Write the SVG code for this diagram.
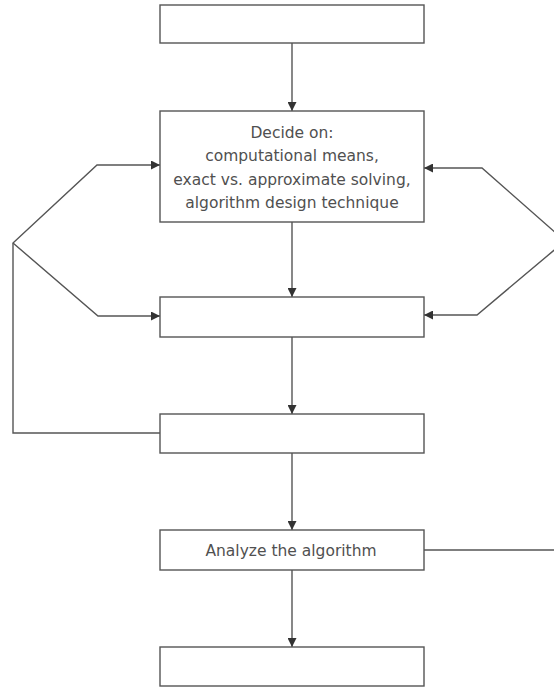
<svg xmlns="http://www.w3.org/2000/svg" width="554" height="687" viewBox="0 0 554 687">
<style>
.box{fill:#fff;stroke:#555;stroke-width:1.4}
.con{fill:none;stroke:#555;stroke-width:1.4}
.lbl{font-family:"DejaVu Sans","Liberation Sans",Arial,sans-serif;font-size:15.5px;fill:#505050;text-anchor:middle}
</style>
<defs>
<marker id="ah" viewBox="0 0 10 10" refX="10" refY="5" markerWidth="9" markerHeight="9" markerUnits="userSpaceOnUse" orient="auto">
<path d="M0,0 L10,5 L0,10 z" fill="#333"/>
</marker>
</defs>
<rect width="554" height="687" fill="#fff"/>
<g id="connectors">
<line class="con" x1="292" y1="43" x2="292" y2="111" marker-end="url(#ah)"/>
<line class="con" x1="292" y1="222" x2="292" y2="297" marker-end="url(#ah)"/>
<line class="con" x1="292" y1="337" x2="292" y2="414" marker-end="url(#ah)"/>
<line class="con" x1="292" y1="453" x2="292" y2="530" marker-end="url(#ah)"/>
<line class="con" x1="292" y1="570" x2="292" y2="647" marker-end="url(#ah)"/>
<polyline class="con" points="160,433 13,433 13,243 97,165 160,165" marker-end="url(#ah)"/>
<polyline class="con" points="13,243 98,316 160,316" marker-end="url(#ah)"/>
<polyline class="con" points="424,550 560,550"/>
<polyline class="con" points="565,241 482,168 424,168" marker-end="url(#ah)"/>
<polyline class="con" points="565,241 477,315 424,315" marker-end="url(#ah)"/>
</g>
<g id="node1"><rect class="box" x="160" y="5" width="264" height="38"/></g>
<g id="node2">
<rect class="box" x="160" y="111" width="264" height="111"/>
<text class="lbl" x="292" y="138">Decide on:</text>
<text class="lbl" x="292" y="161">computational means,</text>
<text class="lbl" x="292" y="184.5">exact vs. approximate solving,</text>
<text class="lbl" x="292" y="207.5">algorithm design technique</text>
</g>
<g id="node3"><rect class="box" x="160" y="297" width="264" height="40"/></g>
<g id="node4"><rect class="box" x="160" y="414" width="264" height="39"/></g>
<g id="node5">
<rect class="box" x="160" y="530" width="264" height="40"/>
<text class="lbl" x="291" y="556">Analyze the algorithm</text>
</g>
<g id="node6"><rect class="box" x="160" y="647" width="264" height="39"/></g>
</svg>
